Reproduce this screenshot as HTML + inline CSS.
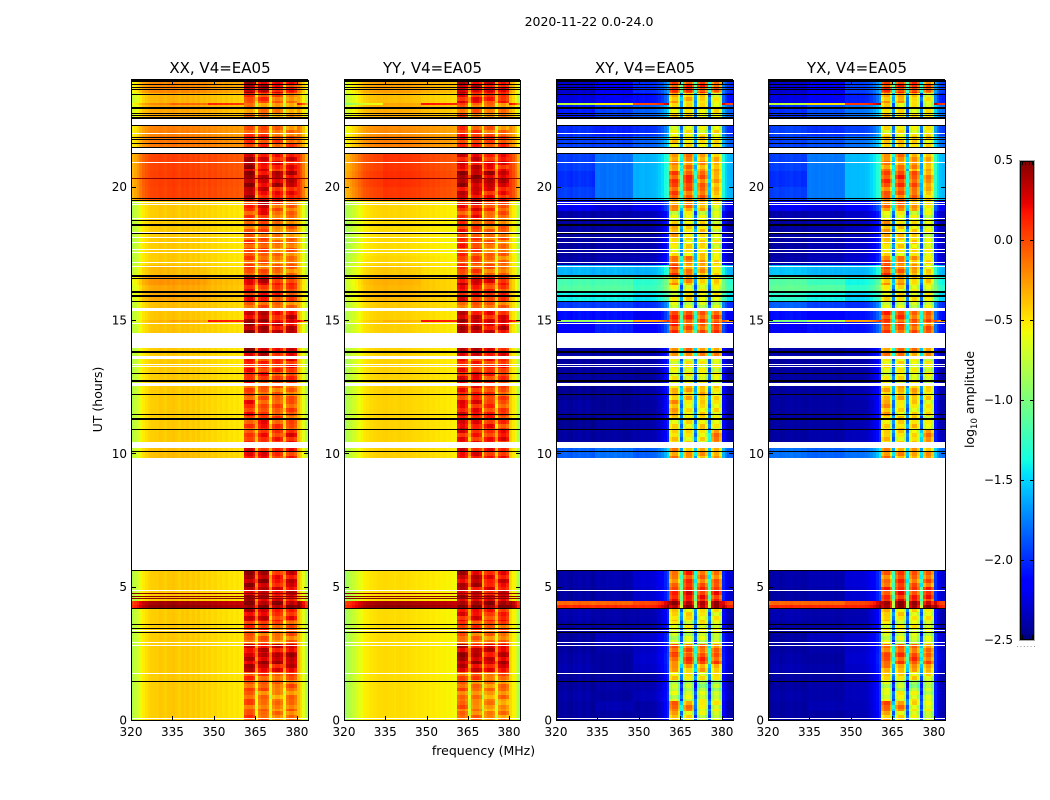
<!DOCTYPE html>
<html lang="en">
<head>
<meta charset="utf-8">
<title>2020-11-22 0.0-24.0</title>
<style>
html,body{margin:0;padding:0;background:#fff;}
svg{display:block;}
text{font-family:"DejaVu Sans","Liberation Sans",sans-serif;fill:#000;}
</style>
</head>
<body>
<svg id="chart" xmlns="http://www.w3.org/2000/svg" width="1050" height="800" viewBox="0 0 1050 800">
<rect x="0" y="0" width="1050" height="800" fill="#fff"/>
<text x="589" y="26" font-size="12.5" text-anchor="middle">2020-11-22 0.0-24.0</text>
<text font-size="12.5" text-anchor="middle" transform="translate(102,399.5) rotate(-90)">UT (hours)</text>
<text x="483.5" y="755" font-size="12.5" text-anchor="middle">frequency (MHz)</text>
<text font-size="12.5" text-anchor="middle" transform="translate(974,399.5) rotate(-90)">log<tspan font-size="8.5" dy="3">10</tspan><tspan dy="-3"> amplitude</tspan></text>
<g id="panels"></g>
<g id="colorbar"></g>
</svg>
<script>
// ----- axis data -----
const xTicks = [320, 335, 350, 365, 380];
const yTicks = [0, 5, 10, 15, 20];
const colorTicks = [0.5, 0, -0.5, -1, -1.5, -2, -2.5];
const colorLabels = ["0.5", "0.0", "\u22120.5", "\u22121.0", "\u22121.5", "\u22122.0", "\u22122.5"];
const panelTitles = ["XX, V4=EA05", "YY, V4=EA05", "XY, V4=EA05", "YX, V4=EA05"];
const channels = Array.from({length: 64}, (_, i) => 320 + i);

// which column of a time-row table each 1 MHz channel reads (0-2 low band, 3-6 sub-bands)
const channelBand = [0,0,0,0,0,0,0,0,0,0,0,0,0,0,1,1,1,1,1,1,1,1,1,1,1,1,1,1,2,2,2,2,2,2,2,2,2,2,2,2,2,
  3,3,3,3,4,4,4,4,4,5,5,5,5,5,6,6,6,6,6,2,2,2,2];

// ----- time rows (UT hours) -----
const rowStart = [0,.35,.7,1.1,1.5,1.8,2.1,2.5,2.85,3.3,3.7,4.2,4.32,4.45,5,9.83,10.43,10.9,11.4,12,12.6,13.2,13.6,14.5,14.94,15,15.45,15.7,16,16.3,16.7,17.05,17.4,18,18.7,19.1,19.5,20,20.6,21.46,21.9,22.53,23.06,23.12,23.5];
const rowEnd = [.35,.7,1.1,1.5,1.8,2.1,2.5,2.85,3.3,3.7,4.2,4.32,4.45,5,5.6,10.2,10.9,11.4,12,12.6,13.2,13.6,13.95,14.94,15,15.34,15.7,16,16.3,16.7,17.05,17.4,18,18.7,19.1,19.5,20,20.6,21.27,21.9,22.27,23.06,23.12,23.5,24];

// ----- fine time structure seen in the receiver band, log10 offset per 4 px slice -----
const rippleLog10 = [-.06,.05,-.12,.08,.02,-.09,.1,-.03,-.14,.06,.03,-.07,.11,-.1,.04,-.02,.09,-.13,.05,.0,-.08,.07,-.04];

// ----- per-channel spectral shape, log10 offset -----
const xxShape = [-.38,-.32,-.26,-.18,-.1,-.06,-.03,-.01,0,0,.02,.01,-.01,.02,.01,.03,.01,-.01,.02,0,.02,-.01,.01,-.02,.01,-.03,-.01,-.04,-.02,-.05,-.03,-.06,-.04,-.07,-.05,-.08,-.06,-.09,-.07,-.1,-.11,
  -.05,0,0,-.1,-.5,-.08,0,0,-.08,-.5,-.08,0,0,-.08,-.5,-.08,0,0,-.1,.05,-.05,-.2,-.4];
const yyShape = [-.38,-.34,-.3,-.25,-.2,-.14,-.1,-.06,-.04,-.02,-.01,0,.01,.01,.02,.02,.01,.01,0,.01,.02,.01,0,.01,0,-.01,-.02,-.01,-.02,-.03,-.02,-.04,-.03,-.05,-.04,-.06,-.05,-.07,-.06,-.08,-.09,
  -.05,0,0,-.1,-.5,-.08,0,0,-.08,-.5,-.08,0,0,-.08,-.5,-.08,0,0,-.1,.02,-.06,-.2,-.36];
const xyShape = [-.02,0,0,.02,0,-.02,.02,0,.03,.01,0,.02,0,-.02,.01,.02,0,-.01,.02,0,.01,.03,0,.02,-.01,.01,0,.02,0,-.02,0,.01,-.01,0,.01,.02,.04,.08,.14,.24,.38,
  -.1,.03,.03,-.25,-1.2,-.15,.03,.03,-.2,-1.2,-.15,.03,.03,-.2,-1.2,-.15,.03,.03,-.2,.25,.1,.02,0];
const yxShape = [-.02,0,.01,.02,-.01,0,.02,.01,.03,0,.01,.02,-.01,0,.01,.02,.01,0,.02,0,.01,.02,.01,.02,0,.01,0,.02,.01,0,.01,.01,0,.01,.01,.03,.05,.09,.15,.25,.38,
  -.1,.03,.03,-.25,-1.25,-.15,.03,.03,-.2,-1.25,-.15,.03,.03,-.2,-1.25,-.15,.03,.03,-.2,.3,.12,.03,0];

// ----- amplitude tables: one row per time row: low1, low2, low3, sub1, sub2, sub3, sub4 -----
const xxRows = [
[-.42,-.42,-.42,.02,-.05,-.15,-.1],[-.42,-.42,-.42,-.05,-.1,-.15,-.1],[-.42,-.42,-.42,-.05,-.1,-.2,-.1],[-.42,-.42,-.42,0,-.05,-.1,-.05],
[-.42,-.42,-.42,.05,0,-.05,0],[-.42,-.42,-.42,.35,.3,.25,.35],[-.42,-.42,-.42,.35,.4,.35,.4],[-.42,-.42,-.42,.25,.3,.25,.3],
[-.42,-.42,-.42,-.05,-.05,-.15,-.05],[-.42,-.42,-.42,.05,.1,-.05,0],[-.42,-.42,-.42,.3,.3,.1,.15],[.45,.45,.45,.5,.5,.5,.5],[.4,.4,.4,.5,.5,.5,.5],
[-.42,-.42,-.42,.4,.35,.25,.3],[-.42,-.42,-.42,.4,.4,.2,.3],[-.38,-.38,-.38,.25,.2,.1,.15],[-.42,-.42,-.42,.05,.15,.1,.2],
[-.42,-.42,-.42,0,.2,.05,0],[-.42,-.42,-.42,.15,0,0,0],[-.42,-.42,-.42,0,-.05,-.05,-.05],[-.42,-.42,-.42,.15,.1,.05,.1],[-.42,-.42,-.42,.15,.1,.1,.2],[-.42,-.42,-.42,.4,.35,.25,.3],
[-.4,-.4,-.4,.4,.4,.3,.35],[-.35,-.3,.2,.4,.4,.3,.35],[-.4,-.4,-.4,.35,.35,.15,.3],[-.38,-.38,-.38,-.05,-.05,-.1,-.1],[-.3,-.3,-.32,.15,.15,.1,.05],
[-.3,-.3,-.32,.15,.1,.05,.05],[-.24,-.26,-.3,.3,.3,.15,.1],[-.36,-.38,-.4,0,-.05,-.1,-.1],[-.42,-.42,-.42,0,-.05,-.1,-.1],[-.42,-.42,-.42,0,0,-.15,-.1],
[-.42,-.42,-.42,-.05,0,-.15,-.1],[-.42,-.42,-.42,0,.15,-.1,-.1],[-.42,-.42,-.42,.1,.3,0,-.05],[.02,.02,.04,.4,.25,.2,.2],[.03,.03,.05,.45,.3,.35,.35],
[.02,.02,.04,.4,.25,.2,.25],[-.15,-.15,-.15,.1,.1,.05,.05],[-.18,-.18,-.18,.05,0,-.1,-.15],[-.3,-.3,-.3,-.15,-.15,-.2,-.25],[-.2,-.1,.15,-.15,-.15,-.2,-.25],
[-.35,-.35,-.35,.05,.05,-.05,-.15],[-.2,-.2,-.22,.4,.35,.2,.15]
];
const yyRows = [
[-.48,-.48,-.48,-.1,-.1,-.2,-.15],[-.48,-.48,-.48,-.05,-.15,-.2,-.2],[-.48,-.48,-.48,-.1,-.15,-.25,-.15],[-.48,-.48,-.48,-.05,-.1,-.15,-.1],
[-.48,-.48,-.48,0,0,-.1,-.05],[-.48,-.48,-.48,.3,.3,.2,.3],[-.48,-.48,-.48,.4,.35,.3,.35],[-.48,-.48,-.48,.35,.3,.3,.3],
[-.48,-.48,-.48,-.05,-.1,-.15,-.1],[-.48,-.48,-.48,.05,.05,-.05,0],[-.48,-.48,-.48,.2,.25,.1,.15],[.45,.45,.45,.5,.5,.5,.5],[.4,.4,.4,.5,.5,.5,.5],
[-.48,-.48,-.48,.35,.3,.25,.3],[-.48,-.48,-.48,.35,.35,.2,.25],[-.44,-.44,-.44,.25,.2,.15,.15],[-.45,-.45,-.45,.2,.15,.15,.2],
[-.45,-.45,-.45,.25,.2,.15,.05],[-.45,-.45,-.45,.2,.2,.1,.05],[-.45,-.45,-.45,.15,.15,.05,0],[-.45,-.45,-.45,.2,.2,.1,.1],[-.45,-.45,-.45,.15,.1,.1,.15],[-.45,-.45,-.45,.35,.3,.25,.25],
[-.44,-.44,-.44,.4,.35,.25,.3],[-.4,-.35,.2,.4,.35,.25,.3],[-.44,-.44,-.44,.35,.3,.2,.25],[-.42,-.42,-.42,-.05,-.05,-.1,-.1],[-.36,-.36,-.38,.2,.15,.1,.1],
[-.36,-.36,-.38,.15,.15,.1,.05],[-.34,-.34,-.38,.3,.25,.2,.15],[-.42,-.42,-.45,.05,0,-.1,-.1],[-.46,-.46,-.46,.05,0,-.1,-.1],[-.48,-.48,-.48,.1,.05,-.1,-.1],
[-.48,-.48,-.48,.1,.05,-.1,-.05],[-.46,-.46,-.46,.05,.15,-.05,-.05],[-.46,-.46,-.46,.15,.25,.05,0],[.02,.05,.04,.3,.25,.2,.2],[.05,.08,.06,.45,.42,.35,.35],
[.02,.06,.04,.25,.3,.2,.2],[-.18,-.18,-.2,.1,.1,.05,.05],[-.22,-.22,-.22,.1,.05,-.05,-.1],[-.32,-.32,-.34,-.05,-.1,-.15,-.15],[-.6,-.3,.2,.05,0,-.1,-.1],
[-.38,-.38,-.4,.2,.2,.1,.15],[-.28,-.28,-.3,.35,.3,.25,.2]
];
const xyRows = [
[-2.42,-2.42,-2.4,-.35,-.55,-.7,-.7],[-2.42,-2.38,-2.4,-.1,-.2,-.6,-.6],[-2.4,-2.42,-2.35,-.7,-.65,-.6,-.75],[-2.42,-2.4,-2.38,-.75,-.8,-.9,-.85],
[-2.42,-2.42,-2.4,-.5,-.55,-.55,-.55],[-2.38,-2.42,-2.32,-.3,-.35,-.3,-.3],[-2.4,-2.42,-2.3,-.1,.05,.05,-.05],[-2.42,-2.4,-2.32,-.05,-.1,-.15,-.15],
[-2.42,-2.35,-2.3,-.75,-.7,-.7,-.7],[-2.42,-2.42,-2.4,-.6,-.65,-.6,-.65],[-2.38,-2.4,-2.38,-.45,-.5,-.55,-.55],[.1,.1,.12,.45,.45,.45,.45],[-.1,-.1,0,.4,.4,.4,.4],
[-2.42,-2.4,-2.3,.1,.2,.1,.1],[-2.4,-2.38,-2.28,-.2,.05,-.1,-.1],[-1.85,-1.8,-1.85,-.2,-.3,-.3,-.3],[-2.42,-2.42,-2.38,-.45,-.55,-.55,-.15],
[-2.45,-2.42,-2.4,-.5,-.5,-.45,-.6],[-2.42,-2.45,-2.42,-.3,-.55,-.5,-.55],[-2.45,-2.45,-2.4,-.4,-.35,-.35,-.5],[-2.42,-2.42,-2.42,-.6,-.6,-.6,-.65],[-2.42,-2.42,-2.4,-.6,-.55,-.6,-.6],[-2.4,-2.4,-2.38,-.2,-.2,-.2,-.25],
[-2.15,-2.05,-2.15,.05,-.05,-.05,0],[-.9,-.8,-.3,.05,-.05,-.05,0],[-2.1,-2.1,-2.2,.1,.05,-.05,-.05],[-1.95,-1.95,-2,-.65,-.7,-.7,-.7],[-1.4,-1.4,-1.45,-.6,-.5,-.55,-.6],
[-1.15,-1.15,-1.25,-.65,-.6,-.6,-.6],[-1.2,-1.2,-1.3,-.3,-.3,-.45,-.5],[-1.6,-1.6,-1.6,0,-.2,-.3,-.5],[-2.4,-2.38,-2.35,-.1,-.2,-.3,-.5],[-2.42,-2.4,-2.38,-.55,-.5,-.5,-.6],
[-2.42,-2.42,-2.4,-.35,-.5,-.45,-.65],[-2.4,-2.4,-2.36,-.7,-.6,-.65,-.7],[-2.2,-2.28,-2.2,-.25,-.2,-.35,-.6],[-1.95,-1.8,-1.6,-.05,-.1,-.1,-.4],[-2,-1.8,-1.6,0,.05,-.1,-.3],
[-1.95,-1.8,-1.6,-.25,-.2,-.3,-.35],[-1.95,-1.95,-1.85,-.45,-.5,-.45,-.5],[-2,-2.05,-2,-.6,-.55,-.6,-.55],[-2.05,-1.95,-1.85,-.45,-.5,-.55,-.55],[-.75,-.55,0,-.45,-.5,-.55,-.55],
[-2.25,-2.2,-2.1,-.35,-.4,-.45,-.6],[-2.3,-2.2,-2,0,.05,.05,-.1]
];
const yxRows = [
[-2.42,-2.42,-2.38,-.35,-.5,-.65,-.7],[-2.42,-2.38,-2.36,-.05,-.2,-.55,-.6],[-2.4,-2.4,-2.35,-.65,-.6,-.6,-.7],[-2.42,-2.4,-2.35,-.7,-.75,-.85,-.8],
[-2.42,-2.42,-2.38,-.45,-.5,-.5,-.55],[-2.38,-2.4,-2.32,-.25,-.3,-.3,-.3],[-2.4,-2.42,-2.3,-.05,0,.05,-.05],[-2.42,-2.4,-2.32,-.1,-.1,-.15,-.2],
[-2.42,-2.35,-2.3,-.7,-.7,-.7,-.7],[-2.42,-2.42,-2.38,-.6,-.6,-.6,-.65],[-2.38,-2.4,-2.38,-.4,-.5,-.55,-.55],[.1,.1,.12,.45,.45,.45,.45],[-.1,-.1,0,.4,.4,.4,.4],
[-2.42,-2.4,-2.3,.05,.15,.1,.1],[-2.4,-2.38,-2.28,-.15,.05,-.1,-.1],[-1.8,-1.85,-1.8,-.2,-.3,-.3,-.3],[-2.42,-2.4,-2.35,-.4,-.5,-.5,-.2],
[-2.42,-2.42,-2.38,-.5,-.45,-.45,-.6],[-2.42,-2.42,-2.4,-.3,-.5,-.5,-.55],[-2.42,-2.42,-2.38,-.4,-.35,-.35,-.5],[-2.42,-2.42,-2.4,-.6,-.55,-.6,-.65],[-2.42,-2.42,-2.4,-.55,-.55,-.6,-.6],[-2.4,-2.4,-2.35,-.2,-.15,-.2,-.25],
[-2.2,-2.1,-2.1,0,-.05,-.1,-.05],[-1,-.8,-.3,0,-.05,-.1,-.05],[-2.1,-2.15,-2.1,.05,.05,-.05,-.1],[-1.85,-1.95,-2,-.65,-.7,-.7,-.7],[-1.3,-1.4,-1.5,-.55,-.5,-.55,-.6],
[-1.1,-1.15,-1.3,-.6,-.55,-.6,-.6],[-1.15,-1.25,-1.4,-.3,-.3,-.45,-.5],[-1.55,-1.6,-1.6,0,-.15,-.3,-.5],[-2.4,-2.36,-2.3,-.1,-.2,-.3,-.5],[-2.42,-2.38,-2.32,-.5,-.5,-.5,-.6],
[-2.42,-2.4,-2.35,-.3,-.45,-.45,-.65],[-2.4,-2.38,-2.32,-.65,-.6,-.65,-.7],[-2.2,-2.25,-2.15,-.2,-.15,-.3,-.55],[-1.95,-1.78,-1.58,-.1,-.1,-.1,-.4],[-2,-1.78,-1.58,0,.05,-.05,-.25],
[-1.95,-1.78,-1.58,-.2,-.2,-.25,-.35],[-1.95,-1.9,-1.8,-.4,-.45,-.45,-.5],[-1.95,-2,-1.95,-.55,-.5,-.55,-.55],[-2,-1.9,-1.8,-.45,-.5,-.55,-.55],[-.75,-.5,.05,-.45,-.5,-.55,-.55],
[-2.25,-2.2,-2.05,-.3,-.35,-.45,-.6],[-2.3,-2.2,-1.95,0,.05,.05,-.1]
];

// ----- flagged integrations (UT hours) -----
const whiteLines = [19.35,18.82,18.3,18.11,17.89,17.63,17.55,17.14,16.99,14.87,13.33,13.24,4.875,3.375,2.89,2.79,1.76,.075,.04,22,20.92,19.4];
const whiteThick = [13.6,12.58];
const blackLines = [23.96,23.82,23.71,23.65,23.44,22.74,22.68,22.61,22.56,22.28,21.84,21.78,21.63,21.46,21.26,19.55,19.5,18.75,18.26,16.54,15.68,13.01,12.75,12.68,12.19,11.46,10.91,10.08,5.6,4.2,3.6,3.45,3.3,1.46];
const blackThick = [24,22.95,18.56,16.65,16.06,15.91,13.8,11.3];
const darkRedLines = [4.76,4.65,4.54,20.3];

const svgNS = "http://www.w3.org/2000/svg";
const panelLeft = [131, 344, 556, 768];
const panelRight = [308, 520, 733, 945];
const panelsRoot = document.getElementById("panels");
const barRoot = document.getElementById("colorbar");

function xScale(panel, freq) { return panelLeft[panel] + (freq - 320) * (panelRight[panel] - panelLeft[panel]) / 64; }
function yScale(hour) { return 720 - hour * 640 / 24; }
function colorPos(value) { return 160 + (0.5 - value) * 160; }

function clamp01(v) { return Math.max(0, Math.min(1, v)); }
function jet(value) {
  const t = clamp01((value + 2.5) / 3);
  const r = t < .35 ? 0 : t < .66 ? (t - .35) / .31 : t < .89 ? 1 : 1 - (t - .89) / .11 * .5;
  const g = t < .125 ? 0 : t < .375 ? (t - .125) / .25 : t < .64 ? 1 : t < .91 ? 1 - (t - .64) / .27 : 0;
  const b = t < .11 ? .5 + t / .11 * .5 : t < .34 ? 1 : t < .65 ? 1 - (t - .34) / .31 : 0;
  return "rgb(" + Math.round(r * 255) + "," + Math.round(g * 255) + "," + Math.round(b * 255) + ")";
}
function make(tag, attrs, parent) {
  const el = document.createElementNS(svgNS, tag);
  for (const k in attrs) el.setAttribute(k, attrs[k]);
  parent.appendChild(el);
  return el;
}

const panelRows = [xxRows, yyRows, xyRows, yxRows];
const panelShapes = [xxShape, yyShape, xyShape, yxShape];

function drawLines(group, panel, hours, thickness, color) {
  hours.forEach(h => {
    const y = Math.round(yScale(h) - thickness / 2);
    const el = make("rect", {x: panelLeft[panel], y: y, width: panelRight[panel] - panelLeft[panel], height: thickness, fill: color, "shape-rendering": "crispEdges"}, group);
    
    
  });
}

panelTitles.forEach((title, p) => {
  const group = make("g", {}, panelsRoot);
  
  

  const cells = make("g", {"shape-rendering": "crispEdges"}, group);
  
  
  const table = panelRows[p];
  const shape = panelShapes[p];
  rowStart.forEach((start, r) => {
    const yTop = Math.round(yScale(rowEnd[r]));
    const yBot = Math.round(yScale(start));
    channels.forEach((freq, c) => {
      const value = table[r][channelBand[c]] + shape[c];
      const x0 = Math.round(xScale(p, freq));
      const x1 = Math.round(xScale(p, freq + 1));
      const inReceiver = c >= 41 && c < 60;
      const sliceStep = inReceiver ? 4 : yBot - yTop;
      for (let y = yTop; y < yBot; y += sliceStep) {
        const ripple = inReceiver ? rippleLog10[(Math.round(y / 4) + channelBand[c] * 7 + p * 3) % rippleLog10.length] : 0;
        const cell = make("rect", {x: x0, y: y, width: x1 - x0, height: Math.min(sliceStep, yBot - y), fill: jet(value + ripple)}, cells);
        
        
      }
    });
  });

  drawLines(group, p, whiteLines, 1, "#fff");
  drawLines(group, p, whiteThick, 3, "#fff");
  drawLines(group, p, p < 2 ? darkRedLines : [], 1, "#8a0000");
  drawLines(group, p, blackLines, 1, "#000");
  drawLines(group, p, blackThick, 2, "#000");

  const left = panelLeft[p];
  const right = panelRight[p];
  const frame = make("rect", {x: left + .5, y: 80.5, width: right - left, height: 640, fill: "none", stroke: "#000", "stroke-width": 1}, group);
  
  

  xTicks.forEach(v => {
    const x = Math.round(xScale(p, v)) + .5;
    const bottomTick = make("line", {x1: x, x2: x, y1: 720.5, y2: 716, stroke: "#000"}, group);
    
    
    const topTick = make("line", {x1: x, x2: x, y1: 80.5, y2: 85, stroke: "#000"}, group);
    
    
    const label = make("text", {x: xScale(p, v), y: 736, "font-size": 12, "text-anchor": "middle"}, group);
    
    
    label.textContent = v;
  });
  yTicks.forEach(v => {
    const y = Math.round(yScale(v)) + .5;
    const leftTick = make("line", {x1: left + .5, x2: left + 5, y1: y, y2: y, stroke: "#000"}, group);
    
    
    const rightTick = make("line", {x1: right + .5, x2: right - 4, y1: y, y2: y, stroke: "#000"}, group);
    
    
    const label = make("text", {x: left - 4, y: yScale(v) + 4.5, "font-size": 12, "text-anchor": "end"}, group);
    
    
    label.textContent = v;
  });
  const heading = make("text", {x: (left + right) / 2 + .5, y: 73, "font-size": 15, "text-anchor": "middle"}, group);
  
  
  heading.textContent = title;
});

// ----- colour bar -----
for (let y = 160; y < 640; y += 2) {
  const value = 0.5 - (y + 1 - 160) / 160;
  const step = make("rect", {x: 1020, y: y, width: 14, height: 2, fill: jet(value), "shape-rendering": "crispEdges"}, barRoot);
  
  
}
const barOuter = make("rect", {x: 1019.5, y: 160.5, width: 15, height: 480, fill: "none", stroke: "#aaa"}, barRoot);


const barInner = make("rect", {x: 1020.5, y: 161.5, width: 13, height: 478, fill: "none", stroke: "#000"}, barRoot);


colorTicks.forEach((v, i) => {
  const y = Math.min(639.5, Math.max(161.5, Math.round(colorPos(v)) + .5));
  const tickL = make("line", {x1: 1020, x2: 1024, y1: y, y2: y, stroke: "#000"}, barRoot);
  
  
  const tickR = make("line", {x1: 1030, x2: 1034, y1: y, y2: y, stroke: "#000"}, barRoot);
  
  
  const label = make("text", {x: 1013, y: colorPos(v) + 4, "font-size": 12, "text-anchor": "end"}, barRoot);
  
  
  label.textContent = colorLabels[i];
});
[1022.5, 1025.5, 1029.5, 1032.5].forEach(x => {
  const top = make("line", {x1: x, x2: x, y1: 161, y2: 165, stroke: "#000"}, barRoot);
  
  
  const bottom = make("line", {x1: x, x2: x, y1: 635, y2: 640, stroke: "#000"}, barRoot);
  
  
});
const dots = make("line", {x1: 1017, x2: 1035, y1: 646.5, y2: 646.5, stroke: "#999", "stroke-dasharray": "1 2.4"}, barRoot);


</script>
</body>
</html>
